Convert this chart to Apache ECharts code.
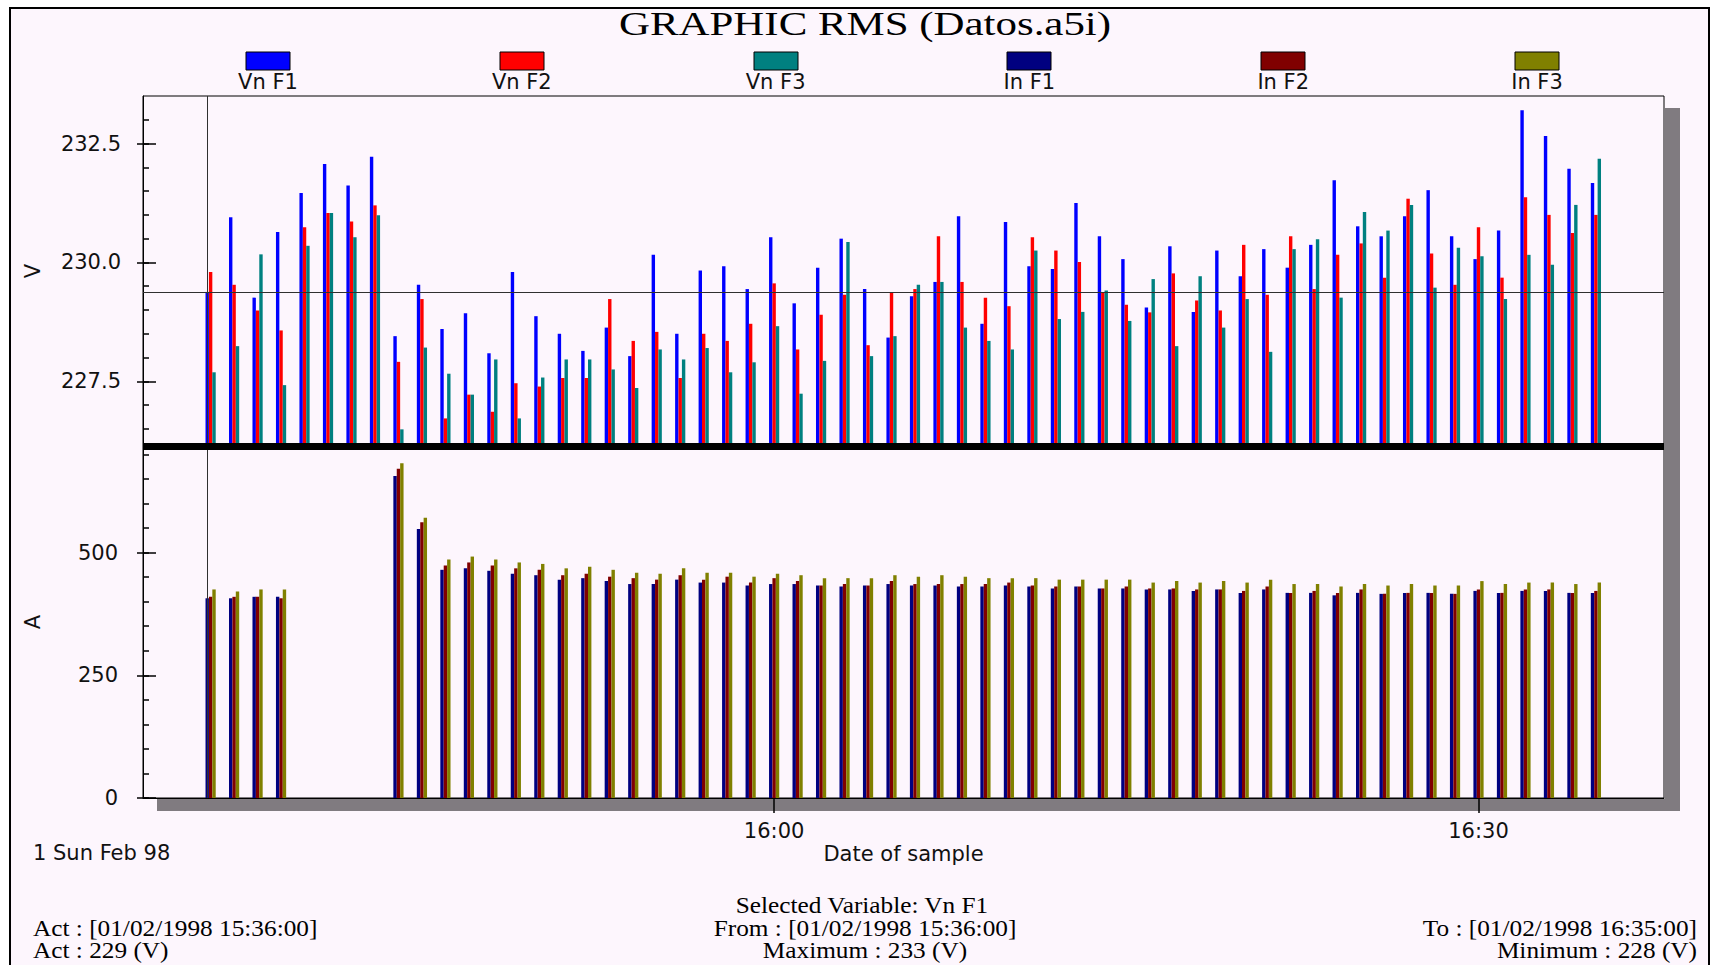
<!DOCTYPE html>
<html>
<head>
<meta charset="utf-8">
<title>GRAPHIC RMS (Datos.a5i)</title>
<script src="https://cdn.jsdelivr.net/npm/echarts@6/dist/echarts.min.js"></script>
<style>
  html, body { margin: 0; padding: 0; background: #ffffff; overflow: hidden; }
  #chart { width: 1725px; height: 965px; }
</style>
</head>
<body>
<div id="chart"></div>
<script>
// ---- Samples: one reading per minute ----
const sampleTimes = [
  '15:36', '15:37', '15:38', '15:39', '15:40', '15:41', '15:42', '15:43', '15:44', '15:45',
  '15:46', '15:47', '15:48', '15:49', '15:50', '15:51', '15:52', '15:53', '15:54', '15:55',
  '15:56', '15:57', '15:58', '15:59', '16:00', '16:01', '16:02', '16:03', '16:04', '16:05',
  '16:06', '16:07', '16:08', '16:09', '16:10', '16:11', '16:12', '16:13', '16:14', '16:15',
  '16:16', '16:17', '16:18', '16:19', '16:20', '16:21', '16:22', '16:23', '16:24', '16:25',
  '16:26', '16:27', '16:28', '16:29', '16:30', '16:31', '16:32', '16:33', '16:34', '16:35'
];
const sampleDate = '01/02/1998';
const dayLabel = '1 Sun Feb 98';

const seriesNames = ['Vn F1', 'Vn F2', 'Vn F3', 'In F1', 'In F2', 'In F3'];
const seriesColors = ['#0000ff', '#ff0000', '#008080', '#000080', '#800000', '#808000'];

// Phase-to-neutral voltages (V)
const vnF1 = [
  229.38, 230.95, 229.26, 230.64, 231.46, 232.07, 231.62, 232.22, 228.45, 229.53,
  228.60, 228.93, 228.09, 229.80, 228.87, 228.50, 228.14, 228.63, 228.03, 230.16,
  228.50, 229.83, 229.92, 229.44, 230.53, 229.14, 229.89, 230.50, 229.44, 228.42,
  229.29, 229.59, 230.97, 228.71, 230.85, 229.92, 229.86, 231.25, 230.55, 230.07,
  229.05, 230.34, 228.96, 230.25, 229.71, 230.28, 229.89, 230.37, 231.73, 230.76,
  230.55, 230.97, 231.52, 230.55, 230.07, 230.67, 233.20, 232.66, 231.97, 231.67
];
const vnF2 = [
  229.80, 229.53, 228.99, 228.57, 230.74, 231.04, 230.86, 231.20, 227.91, 229.23,
  226.72, 227.22, 226.86, 227.46, 227.39, 227.57, 227.57, 229.23, 228.35, 228.54,
  227.57, 228.50, 228.35, 228.71, 229.56, 228.17, 228.90, 229.32, 228.26, 229.36,
  229.44, 230.55, 229.59, 229.26, 229.08, 230.53, 230.25, 230.01, 229.36, 229.11,
  228.95, 229.77, 229.20, 228.99, 230.37, 229.32, 230.55, 229.44, 230.16, 230.40,
  229.68, 231.34, 230.19, 229.53, 230.74, 229.68, 231.37, 231.00, 230.62, 231.00
];
const vnF3 = [
  227.69, 228.24, 230.17, 227.42, 230.35, 231.04, 230.53, 230.99, 226.49, 228.21,
  227.66, 227.22, 227.96, 226.72, 227.58, 227.96, 227.96, 227.75, 227.36, 228.17,
  227.96, 228.20, 227.69, 227.90, 228.66, 227.24, 227.93, 230.43, 228.03, 228.45,
  229.53, 229.59, 228.63, 228.35, 228.17, 230.25, 228.81, 228.96, 229.41, 228.77,
  229.65, 228.24, 229.71, 228.63, 229.23, 228.12, 230.28, 230.49, 229.26, 231.06,
  230.67, 231.21, 229.47, 230.31, 230.13, 229.23, 230.16, 229.95, 231.21, 232.18
];

// Phase currents (A); null = no reading recorded
const inF1 = [
  407, 407, 410, 410, null, null, null, null, 656, 548,
  465, 468, 463, 457, 454, 445, 448, 442, 436, 436,
  445, 439, 439, 433, 436, 436, 433, 431, 433, 436,
  433, 433, 431, 431, 433, 431, 427, 431, 427, 427,
  425, 425, 422, 425, 418, 425, 418, 418, 413, 418,
  416, 418, 418, 416, 422, 418, 422, 422, 418, 418
];
const inF2 = [
  410, 410, 410, 407, null, null, null, null, 671, 562,
  474, 480, 474, 468, 465, 454, 457, 451, 448, 445,
  454, 445, 451, 439, 448, 442, 433, 436, 433, 442,
  436, 436, 436, 436, 439, 433, 431, 431, 427, 431,
  427, 427, 425, 425, 422, 431, 418, 422, 418, 425,
  416, 418, 418, 416, 425, 418, 425, 425, 418, 422
];
const inF3 = [
  425, 421, 425, 425, null, null, null, null, 682, 571,
  486, 492, 486, 480, 477, 468, 471, 465, 459, 457,
  468, 459, 459, 451, 457, 454, 448, 448, 448, 454,
  451, 454, 451, 448, 448, 448, 445, 445, 445, 445,
  439, 442, 439, 442, 439, 445, 436, 436, 431, 436,
  433, 436, 433, 433, 442, 436, 439, 439, 436, 439
];

// Axis ticks
const voltTicks = [227.5, 230.0, 232.5];
const voltMinorTicks = [226.5, 227.0, 227.5, 228.0, 228.5, 229.0, 229.5, 230.0, 230.5, 231.0, 231.5, 232.0, 232.5, 233.0];
const ampTicks = [0, 250, 500];
const ampMinorTicks = [0, 50, 100, 150, 200, 250, 300, 350, 400, 450, 500, 550, 600, 650, 700];
const timeTicks = ['16:00', '16:30'];

// ---- helpers ----
const SANS = '"DejaVu Sans", sans-serif';
const SERIF = '"Liberation Serif", "Times New Roman", serif';
const INK = '#111111';

// minutes after 15:00
function toMinutes(t) {
  const p = t.split(':').map(Number);
  return (p[0] - 15) * 60 + p[1];
}
function minutesToLabel(v) {
  const total = Math.round(v) + 15 * 60;
  const h = Math.floor(total / 60), m = total % 60;
  return h + ':' + (m < 10 ? '0' : '') + m;
}
function pairs(values) {
  return values.map((v, i) => [toMinutes(sampleTimes[i]), v == null ? '-' : v]);
}

const X_MIN = 33.12, X_MAX = 97.9;
const tickLine = { color: '#000', width: 1.5 };

function yAxesFor(gridIndex, min, max, majors, minors, name, fmt, margin) {
  const common = { type: 'value', gridIndex, min, max, position: 'left', offset: 0, splitLine: { show: false } };
  return [
    Object.assign({}, common, {
      name, nameLocation: 'middle', nameGap: 100, nameRotate: 90,
      nameTextStyle: { fontFamily: SANS, fontSize: 21, color: INK },
      axisLine: { show: true, onZero: false, lineStyle: { color: '#000', width: 1 } },
      axisTick: { show: true, inside: false, length: 6, customValues: majors, lineStyle: tickLine },
      axisLabel: { show: true, customValues: majors, formatter: fmt, margin, fontFamily: SANS, fontSize: 21, color: INK }
    }),
    Object.assign({}, common, {
      axisLine: { show: false },
      axisTick: { show: true, inside: true, length: 13, customValues: majors, lineStyle: tickLine },
      axisLabel: { show: false }
    }),
    Object.assign({}, common, {
      axisLine: { show: false },
      axisTick: { show: true, inside: true, length: 6, customValues: minors, lineStyle: tickLine },
      axisLabel: { show: false }
    })
  ];
}

const firstX = toMinutes(sampleTimes[0]);
const cursorLine = (data) => ({
  silent: true, animation: false, symbol: ['none', 'none'],
  label: { show: false },
  lineStyle: { color: '#303030', width: 1, type: 'solid' },
  emphasis: { disabled: true },
  data
});

const barBase = { type: 'bar', barWidth: 3.4, barGap: '0%', clip: true, silent: true, animation: false };
const voltSeries = [vnF1, vnF2, vnF3].map((vals, i) => Object.assign({}, barBase, {
  name: seriesNames[i], xAxisIndex: 0, yAxisIndex: 0,
  itemStyle: { color: seriesColors[i] },
  data: pairs(vals)
}));
voltSeries[0].markLine = cursorLine([{ xAxis: firstX }, { yAxis: vnF1[0] }]);

const ampSeries = [inF1, inF2, inF3].map((vals, i) => Object.assign({}, barBase, {
  name: seriesNames[i + 3], xAxisIndex: 1, yAxisIndex: 3,
  itemStyle: { color: seriesColors[i + 3] },
  data: pairs(vals)
}));
ampSeries[0].markLine = cursorLine([{ xAxis: firstX }]);

// ---- surrounding panel, legend, captions ----
const graphics = [];
graphics.push({ type: 'rect', z: -20, silent: true,
  shape: { x: 10, y: 8, width: 1699, height: 980 },
  style: { fill: '#fdf6fd', stroke: '#000', lineWidth: 2 } });
// drop shadow of the plot frame
graphics.push({ type: 'rect', z: -10, silent: true,
  shape: { x: 1665, y: 108, width: 15, height: 703 }, style: { fill: '#807b80' } });
graphics.push({ type: 'rect', z: -10, silent: true,
  shape: { x: 157, y: 799, width: 1523, height: 12 }, style: { fill: '#807b80' } });

function textEl(text, x, y, font, align, scaleX) {
  return { type: 'text', x, y, scaleX: scaleX || 1, z: 5, silent: true,
    style: { text, font, fill: '#000', align, verticalAlign: 'middle',
             textAlign: align, textVerticalAlign: 'middle' } };
}

graphics.push(textEl('GRAPHIC RMS (Datos.a5i)', 865, 24, '33px ' + SERIF, 'center', 1.3));

seriesNames.forEach((name, i) => {
  const cx = 268 + i * 253.8;
  graphics.push({ type: 'rect', z: 5, silent: true,
    shape: { x: Math.round(cx - 22), y: 52, width: 44, height: 18 },
    style: { fill: seriesColors[i], stroke: '#000', lineWidth: 1 } });
  const t = textEl(name, cx, 82, '21px ' + SANS, 'center');
  t.style.fill = INK;
  graphics.push(t);
});

const dayText = textEl(dayLabel, 33, 853, '21px ' + SANS, 'left');
dayText.style.fill = INK;
graphics.push(dayText);

const lastTime = sampleTimes[sampleTimes.length - 1];
const actV = Math.round(vnF1[0]);
const maxV = Math.round(Math.max.apply(null, vnF1));
const minV = Math.round(Math.min.apply(null, vnF1));
const infoFont = '23px ' + SERIF;
graphics.push(textEl('Selected Variable: ' + seriesNames[0], 862, 905, infoFont, 'center', 1.1));
graphics.push(textEl('Act : [' + sampleDate + ' ' + sampleTimes[0] + ':00]', 33, 928, infoFont, 'left', 1.1));
graphics.push(textEl('From : [' + sampleDate + ' ' + sampleTimes[0] + ':00]', 865, 928, infoFont, 'center', 1.1));
graphics.push(textEl('To : [' + sampleDate + ' ' + lastTime + ':00]', 1697, 928, infoFont, 'right', 1.1));
graphics.push(textEl('Act : ' + actV + ' (V)', 33, 950, infoFont, 'left', 1.1));
graphics.push(textEl('Maximum : ' + maxV + ' (V)', 865, 950, infoFont, 'center', 1.1));
graphics.push(textEl('Minimum : ' + minV + ' (V)', 1697, 950, infoFont, 'right', 1.1));

const timeTickValues = timeTicks.map(toMinutes);

const option = {
  backgroundColor: '#ffffff',
  animation: false,
  grid: [
    { left: 143, top: 96, width: 1521, height: 350, show: true, borderColor: '#000', borderWidth: 1, backgroundColor: 'transparent' },
    { left: 143, top: 446, width: 1521, height: 352, show: true, borderColor: '#000', borderWidth: 1, backgroundColor: 'transparent' }
  ],
  xAxis: [
    { type: 'value', gridIndex: 0, min: X_MIN, max: X_MAX, position: 'bottom', z: 10,
      axisLine: { show: true, onZero: false, lineStyle: { color: '#000', width: 7, cap: 'butt' } },
      axisTick: { show: false }, axisLabel: { show: false }, splitLine: { show: false } },
    { type: 'value', gridIndex: 1, min: X_MIN, max: X_MAX, position: 'bottom',
      name: 'Date of sample', nameLocation: 'middle', nameGap: 45,
      nameTextStyle: { fontFamily: SANS, fontSize: 21, color: INK },
      axisLine: { show: true, onZero: false, lineStyle: { color: '#000', width: 1 } },
      axisTick: { show: true, length: 15, customValues: timeTickValues, lineStyle: tickLine },
      axisLabel: { show: true, customValues: timeTickValues, formatter: minutesToLabel, margin: 22,
                   fontFamily: SANS, fontSize: 21, color: INK },
      splitLine: { show: false } }
  ],
  yAxis: [].concat(
    yAxesFor(0, 226.14, 233.5, voltTicks, voltMinorTicks, 'V', v => v.toFixed(1), 22),
    yAxesFor(1, 0, 717.3, ampTicks, ampMinorTicks, 'A', v => String(v), 25)
  ),
  graphic: { elements: graphics },
  series: voltSeries.concat(ampSeries)
};

const chart = echarts.init(document.getElementById('chart'), null, { renderer: 'svg' });
chart.setOption(option);
</script>
</body>
</html>
